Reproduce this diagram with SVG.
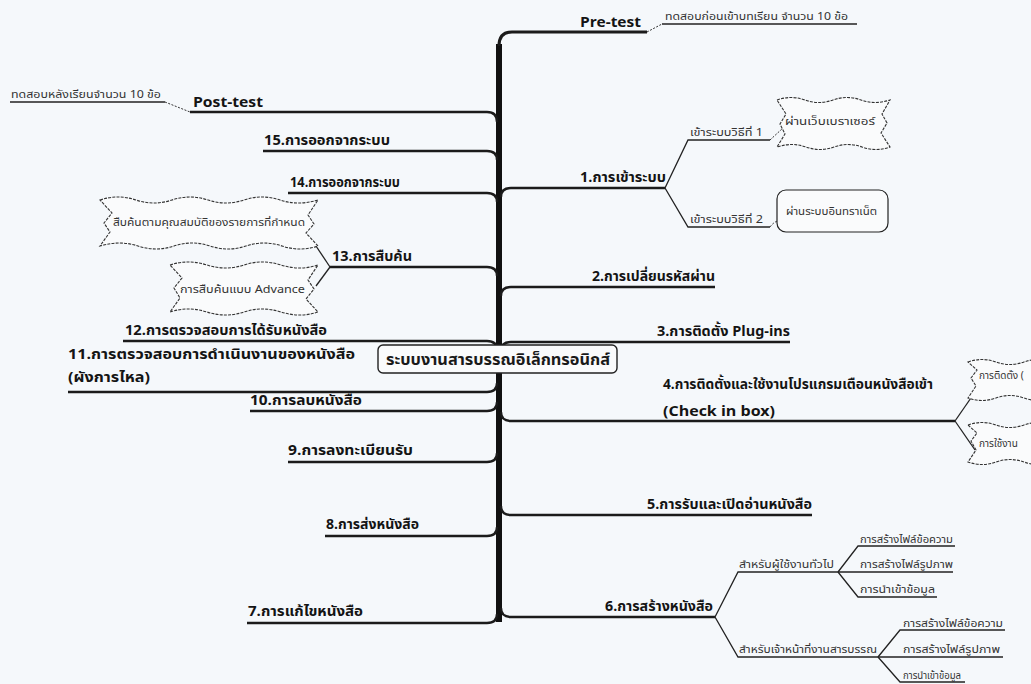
<svg xmlns="http://www.w3.org/2000/svg" width="1031" height="684" viewBox="0 0 1031 684">
  <style>
    .bg{fill:#f5f8fb}
    .trunk{fill:none;stroke:#111;stroke-width:6;stroke-linecap:butt}
    .br{fill:none;stroke:#1b1b1b;stroke-width:2.4}
    .sub{fill:none;stroke:#222;stroke-width:1.3}
    .dash{fill:none;stroke:#333;stroke-width:1;stroke-dasharray:2 1.5}
    .wave{fill:#fafbfc;stroke:#333;stroke-width:1.1;stroke-dasharray:3 1.2}
    .rbox{fill:#fafbfc;stroke:#222;stroke-width:1.4}
    .lbl{font-family:Tahoma,"Noto Sans Thai","DejaVu Sans","Noto Sans",sans-serif;font-weight:bold;font-size:14px;fill:#141414}
    .sm{font-family:Tahoma,"Noto Sans Thai","DejaVu Sans","Noto Sans",sans-serif;font-size:10px;fill:#333}
    .ctr{font-family:Tahoma,"Noto Sans Thai","DejaVu Sans","Noto Sans",sans-serif;font-weight:bold;font-size:16px;fill:#1a1a1a}
  </style>
  <rect class="bg" x="0" y="0" width="1031" height="684"/>

  <!-- connectors: trunk and branch lines -->
  <g id="connectors">
    <path class="trunk" d="M499 44 L499 622"/>
    <!-- left, upper half -->
    <path class="br" d="M190 112 L487 112 Q497 112 497 122"/>
    <path class="br" d="M263 151 L487 151 Q497 151 497 160"/>
    <path class="br" d="M288 193 L487 193 Q497 193 497 202"/>
    <path class="br" d="M330 267 L487 267 Q497 267 497 276"/>
    <path class="br" d="M123 341 L487 341 Q497 341 497 350"/>
    <!-- left, lower half -->
    <path class="br" d="M68 392 L487 392 Q497 392 497 383"/>
    <path class="br" d="M250 411 L487 411 Q497 411 497 402"/>
    <path class="br" d="M288 462 L487 462 Q497 462 497 453"/>
    <path class="br" d="M325 536 L487 536 Q497 536 497 527"/>
    <path class="br" d="M247 623 L487 623 Q497 623 497 614"/>
    <!-- right, upper half -->
    <path class="br" d="M499 46 Q499 32 512 32 L647 32" style="stroke-width:3"/>
    <path class="br" d="M501 197 Q501 188 511 188 L665 188"/>
    <path class="br" d="M501 296 Q501 287 511 287 L715 287"/>
    <path class="br" d="M501 351 Q501 342 511 342 L790 342"/>
    <!-- right, lower half -->
    <path class="br" d="M501 412 Q501 421 511 421 L955 421"/>
    <path class="br" d="M501 506 Q501 515 511 515 L812 515"/>
    <path class="br" d="M501 608 Q501 617 511 617 L715 617"/>

    <!-- pre/post test leaders -->
    <path class="dash" d="M647 32 L662 24"/>
    <path class="sub" d="M662 24 L857 24"/>
    <path class="dash" d="M165 102 L190 112"/>
    <path class="sub" d="M10 102 L165 102"/>

    <!-- 1 sub-branches -->
    <path class="sub" d="M665 188 L688 140 L770 140"/>
    <path class="sub" d="M665 188 L688 227 L770 227"/>
    <path class="dash" d="M770 140 L783 128"/>
    <path class="dash" d="M770 227 Q775 220 783 220"/>
    <path class="sub" d="M783 128 L878 128"/>
    <path class="sub" d="M783 220 L878 220"/>

    <!-- 13 sub-branches -->
    <path class="sub" d="M330 267 L316 246"/>
    <path class="sub" d="M330 267 L316 286"/>
    <path class="sub" d="M113 229 L305 229"/>
    <path class="sub" d="M180 296 L308 296"/>

    <!-- 4 sub-branches -->
    <path class="sub" d="M955 421 L973 395"/>
    <path class="sub" d="M955 421 L975 450"/>
    <path class="sub" d="M977 383 L1031 383"/>
    <path class="sub" d="M977 451 L1031 451"/>

    <!-- 6 sub-branches -->
    <path class="sub" d="M715 617 L738 572 L838 572"/>
    <path class="sub" d="M715 617 L738 657 L878 657"/>
    <path class="sub" d="M838 572 L858 546 L955 546"/>
    <path class="sub" d="M838 572 L953 572"/>
    <path class="sub" d="M838 572 L858 597 L937 597"/>
    <path class="sub" d="M878 657 L900 630 L1005 630"/>
    <path class="sub" d="M878 657 L1003 657"/>
    <path class="sub" d="M878 657 L900 682 L965 682"/>
  </g>

  <!-- centre topic -->
  <g id="center">
    <rect class="rbox" x="378" y="345" width="239" height="28" rx="5"/>
    <text class="ctr" x="386" y="365" textLength="224" lengthAdjust="spacingAndGlyphs">ระบบงานสารบรรณอิเล็กทรอนิกส์</text>
  </g>

  <g id="pretest">
    <text class="lbl" x="580" y="27" textLength="61" lengthAdjust="spacingAndGlyphs">Pre-test</text>
    <text class="sm" x="665" y="20" textLength="183" lengthAdjust="spacingAndGlyphs">ทดสอบก่อนเข้าบทเรียน จำนวน 10 ข้อ</text>
  </g>
  <g id="posttest">
    <text class="lbl" x="193" y="107" textLength="70" lengthAdjust="spacingAndGlyphs">Post-test</text>
    <text class="sm" x="11" y="98" textLength="150" lengthAdjust="spacingAndGlyphs">ทดสอบหลังเรียนจำนวน 10 ข้อ</text>
  </g>

  <g id="n1">
    <text class="lbl" x="580" y="182" textLength="86" lengthAdjust="spacingAndGlyphs">1.การเข้าระบบ</text>
    <text class="sm" x="690" y="136" textLength="73" lengthAdjust="spacingAndGlyphs">เข้าระบบวิธีที่ 1</text>
    <text class="sm" x="690" y="223" textLength="73" lengthAdjust="spacingAndGlyphs">เข้าระบบวิธีที่ 2</text>
    <path class="wave" d="M777 100 q14 -5 28 0 t28 0 t28 0 t29 0 l-8 14 l5 9 l-6 10 l9 14 q-14 5 -28 0 t-28 0 t-28 0 t-29 0 l8 -13 l-5 -10 l6 -10 z"/>
    <text class="sm" x="785" y="125" textLength="90" lengthAdjust="spacingAndGlyphs">ผ่านเว็บเบราเซอร์</text>
    <rect class="rbox" x="777" y="190" width="111" height="42" rx="9" style="stroke-width:1.2"/>
    <text class="sm" x="786" y="215" textLength="91" lengthAdjust="spacingAndGlyphs">ผ่านระบบอินทราเน็ต</text>
  </g>
  <g id="n2">
    <text class="lbl" x="592" y="281" textLength="123" lengthAdjust="spacingAndGlyphs">2.การเปลี่ยนรหัสผ่าน</text>
  </g>
  <g id="n3">
    <text class="lbl" x="657" y="336" textLength="133" lengthAdjust="spacingAndGlyphs">3.การติดตั้ง Plug-ins</text>
  </g>
  <g id="n4">
    <text class="lbl" x="663" y="389" textLength="270" lengthAdjust="spacingAndGlyphs">4.การติดตั้งและใช้งานโปรแกรมเตือนหนังสือเข้า</text>
    <text class="lbl" x="663" y="416" textLength="112" lengthAdjust="spacingAndGlyphs">(Check in box)</text>
    <path class="wave" d="M968 362 q14 -5 28 0 t28 0 t28 0 l0 36 q-14 5 -28 0 t-28 0 t-28 0 l8 -12 l-5 -8 l6 -8 z"/>
    <text class="sm" x="979" y="379">การติดตั้ง (</text>
    <path class="wave" d="M968 425 q14 -5 28 0 t28 0 t28 0 l0 37 q-14 5 -28 0 t-28 0 t-28 0 l8 -12 l-5 -9 l6 -8 z"/>
    <text class="sm" x="979" y="447">การใช้งาน</text>
  </g>
  <g id="n5">
    <text class="lbl" x="647" y="509" textLength="165" lengthAdjust="spacingAndGlyphs">5.การรับและเปิดอ่านหนังสือ</text>
  </g>
  <g id="n6">
    <text class="lbl" x="605" y="611" textLength="108" lengthAdjust="spacingAndGlyphs">6.การสร้างหนังสือ</text>
    <text class="sm" x="739" y="568" textLength="95" lengthAdjust="spacingAndGlyphs">สำหรับผู้ใช้งานทั่วไป</text>
    <text class="sm" x="739" y="653" textLength="138" lengthAdjust="spacingAndGlyphs">สำหรับเจ้าหน้าที่งานสารบรรณ</text>
    <text class="sm" x="860" y="543" textLength="93" lengthAdjust="spacingAndGlyphs">การสร้างไฟล์ข้อความ</text>
    <text class="sm" x="860" y="568" textLength="93" lengthAdjust="spacingAndGlyphs">การสร้างไฟล์รูปภาพ</text>
    <text class="sm" x="860" y="593" textLength="75" lengthAdjust="spacingAndGlyphs">การนำเข้าข้อมูล</text>
    <text class="sm" x="903" y="627" textLength="100" lengthAdjust="spacingAndGlyphs">การสร้างไฟล์ข้อความ</text>
    <text class="sm" x="903" y="653" textLength="97" lengthAdjust="spacingAndGlyphs">การสร้างไฟล์รูปภาพ</text>
    <text class="sm" x="903" y="679" textLength="58" lengthAdjust="spacingAndGlyphs">การนำเข้าข้อมูล</text>
  </g>
  <g id="n7">
    <text class="lbl" x="248" y="616" textLength="115" lengthAdjust="spacingAndGlyphs">7.การแก้ไขหนังสือ</text>
  </g>
  <g id="n8">
    <text class="lbl" x="326" y="529" textLength="93" lengthAdjust="spacingAndGlyphs">8.การส่งหนังสือ</text>
  </g>
  <g id="n9">
    <text class="lbl" x="288" y="455" textLength="125" lengthAdjust="spacingAndGlyphs">9.การลงทะเบียนรับ</text>
  </g>
  <g id="n10">
    <text class="lbl" x="250" y="405" textLength="112" lengthAdjust="spacingAndGlyphs">10.การลบหนังสือ</text>
  </g>
  <g id="n11">
    <text class="lbl" x="68" y="359" textLength="287" lengthAdjust="spacingAndGlyphs">11.การตรวจสอบการดำเนินงานของหนังสือ</text>
    <text class="lbl" x="68" y="382" textLength="82" lengthAdjust="spacingAndGlyphs">(ผังการไหล)</text>
  </g>
  <g id="n12">
    <text class="lbl" x="125" y="335" textLength="202" lengthAdjust="spacingAndGlyphs">12.การตรวจสอบการได้รับหนังสือ</text>
  </g>
  <g id="n13">
    <text class="lbl" x="332" y="261" textLength="80" lengthAdjust="spacingAndGlyphs">13.การสืบค้น</text>
    <path class="wave" d="M100 200 q18 -6 36 0 t36 0 t36 0 t36 0 t36 0 t38 0 l-10 15 l6 9 l-8 9 l12 13 q-18 6 -36 0 t-36 0 t-36 0 t-36 0 t-36 0 t-38 0 l10 -14 l-6 -9 l8 -10 z"/>
    <text class="sm" x="113" y="226" textLength="192" lengthAdjust="spacingAndGlyphs">สืบค้นตามคุณสมบัติของรายการที่กำหนด</text>
    <path class="wave" d="M170 265 q18 -6 37 0 t37 0 t37 0 t37 0 l-10 15 l6 9 l-8 10 l12 13 q-18 6 -37 0 t-37 0 t-37 0 t-37 0 l10 -14 l-6 -10 l8 -10 z"/>
    <text class="sm" x="180" y="293" textLength="125" lengthAdjust="spacingAndGlyphs">การสืบค้นแบบ Advance</text>
  </g>
  <g id="n14">
    <text class="lbl" x="290" y="187" textLength="110" lengthAdjust="spacingAndGlyphs">14.การออกจากระบบ</text>
  </g>
  <g id="n15">
    <text class="lbl" x="264" y="145" textLength="126" lengthAdjust="spacingAndGlyphs">15.การออกจากระบบ</text>
  </g>
</svg>
